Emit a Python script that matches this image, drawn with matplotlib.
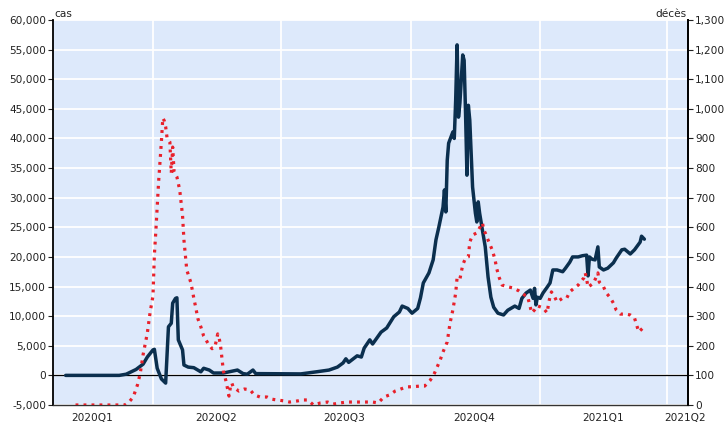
import matplotlib
matplotlib.use('Agg')
import matplotlib.pyplot as plt
import matplotlib.dates as mdates
import matplotlib.ticker as mticker
import pandas as pd

# nouveaux cas (axe gauche)
cas_dates = ['2020-01-30', '2020-03-08', '2020-03-13', '2020-03-20', '2020-03-25', '2020-03-28',
             '2020-04-01', '2020-04-02', '2020-04-04', '2020-04-07', '2020-04-10', '2020-04-12',
             '2020-04-14', '2020-04-15', '2020-04-17', '2020-04-18', '2020-04-19', '2020-04-22',
             '2020-04-23', '2020-04-26', '2020-04-30', '2020-05-05', '2020-05-07', '2020-05-11',
             '2020-05-14', '2020-05-21', '2020-05-31', '2020-06-04', '2020-06-07', '2020-06-11',
             '2020-06-13', '2020-07-15', '2020-07-26', '2020-08-04', '2020-08-10', '2020-08-14',
             '2020-08-16', '2020-08-18', '2020-08-24', '2020-08-27', '2020-08-29', '2020-09-02',
             '2020-09-04', '2020-09-10', '2020-09-14', '2020-09-19', '2020-09-23', '2020-09-25',
             '2020-09-29', '2020-10-02', '2020-10-06', '2020-10-08', '2020-10-10', '2020-10-14',
             '2020-10-17', '2020-10-19', '2020-10-21', '2020-10-24', '2020-10-25', '2020-10-26',
             '2020-10-27', '2020-10-28', '2020-10-31', '2020-11-01', '2020-11-02', '2020-11-03',
             '2020-11-04', '2020-11-05', '2020-11-07', '2020-11-08', '2020-11-09', '2020-11-10',
             '2020-11-11', '2020-11-12', '2020-11-14', '2020-11-16', '2020-11-17', '2020-11-18',
             '2020-11-19', '2020-11-21', '2020-11-23', '2020-11-25', '2020-11-27', '2020-11-29',
             '2020-12-02', '2020-12-06', '2020-12-09', '2020-12-14', '2020-12-17', '2020-12-19',
             '2020-12-22', '2020-12-25', '2020-12-27', '2020-12-28', '2020-12-29', '2020-12-30',
             '2021-01-01', '2021-01-03', '2021-01-06', '2021-01-08', '2021-01-10', '2021-01-13',
             '2021-01-17', '2021-01-19', '2021-01-22', '2021-01-24', '2021-01-28', '2021-01-31',
             '2021-02-03', '2021-02-04', '2021-02-05', '2021-02-07', '2021-02-09', '2021-02-11',
             '2021-02-12', '2021-02-15', '2021-02-18', '2021-02-22', '2021-02-24', '2021-02-28',
             '2021-03-02', '2021-03-06', '2021-03-09', '2021-03-13', '2021-03-14', '2021-03-16']
cas_vals = [0, 0, 200, 1000, 1900, 3100,
            4300, 4400, 1200, -600, -1300, 8200,
            8800, 12200, 13000, 13100, 6000, 4300,
            1750, 1400, 1300, 600, 1200, 900,
            400, 400, 900, 300, 200, 900,
            300, 250, 600, 900, 1400, 2100,
            2800, 2200, 3300, 3100, 4600, 6000,
            5300, 7300, 8000, 9900, 10700, 11700,
            11300, 10500, 11300, 13100, 15600, 17300,
            19500, 22900, 25000, 28400, 31300, 27600,
            36300, 39200, 41100, 40000, 46500, 55800,
            43600, 46000, 54100, 53200, 44300, 33800,
            45600, 43100, 31800, 27400, 25900, 29300,
            27400, 24500, 21700, 16600, 13200, 11500,
            10500, 10200, 11000, 11700, 11300, 13000,
            13900, 14400, 13000, 14700, 11900, 13200,
            13000, 13900, 14900, 15600, 17800, 17800,
            17500, 18100, 19100, 20000, 20000, 20200,
            20300, 16800, 20000, 19600, 19500, 21700,
            18300, 17800, 18100, 19000, 19800, 21200,
            21300, 20500, 21200, 22500, 23500, 23000]

# décès (axe droit)
deces_dates = ['2020-02-06', '2020-03-08', '2020-03-12', '2020-03-15', '2020-03-18', '2020-03-21',
               '2020-03-23', '2020-03-25', '2020-03-28', '2020-03-30', '2020-04-01', '2020-04-02',
               '2020-04-03', '2020-04-04', '2020-04-05', '2020-04-06', '2020-04-07', '2020-04-08',
               '2020-04-09', '2020-04-10', '2020-04-11', '2020-04-13', '2020-04-14', '2020-04-15',
               '2020-04-16', '2020-04-18', '2020-04-20', '2020-04-22', '2020-04-23', '2020-04-24',
               '2020-04-25', '2020-04-28', '2020-04-30', '2020-05-01', '2020-05-03', '2020-05-05',
               '2020-05-07', '2020-05-10', '2020-05-13', '2020-05-15', '2020-05-17', '2020-05-18',
               '2020-05-19', '2020-05-20', '2020-05-21', '2020-05-23', '2020-05-25', '2020-05-26',
               '2020-05-27', '2020-05-28', '2020-06-01', '2020-06-05', '2020-06-09', '2020-06-12',
               '2020-06-16', '2020-06-21', '2020-06-24', '2020-06-28', '2020-07-03', '2020-07-07',
               '2020-07-13', '2020-07-16', '2020-07-20', '2020-07-24', '2020-07-29', '2020-08-03',
               '2020-08-07', '2020-08-12', '2020-08-17', '2020-08-26', '2020-09-04', '2020-09-08',
               '2020-09-12', '2020-09-16', '2020-09-20', '2020-09-24', '2020-09-28', '2020-10-03',
               '2020-10-08', '2020-10-11', '2020-10-15', '2020-10-18', '2020-10-22', '2020-10-24',
               '2020-10-27', '2020-10-29', '2020-10-31', '2020-11-02', '2020-11-03', '2020-11-05',
               '2020-11-07', '2020-11-09', '2020-11-11', '2020-11-12', '2020-11-14', '2020-11-17',
               '2020-11-19', '2020-11-21', '2020-11-22', '2020-11-23', '2020-11-25', '2020-11-28',
               '2020-11-30', '2020-12-01', '2020-12-03', '2020-12-05', '2020-12-09', '2020-12-13',
               '2020-12-17', '2020-12-21', '2020-12-23', '2020-12-25', '2020-12-26', '2020-12-28',
               '2020-12-30', '2021-01-03', '2021-01-06', '2021-01-07', '2021-01-08', '2021-01-09',
               '2021-01-11', '2021-01-13', '2021-01-17', '2021-01-20', '2021-01-22', '2021-01-26',
               '2021-01-28', '2021-02-01', '2021-02-02', '2021-02-03', '2021-02-04', '2021-02-08',
               '2021-02-11', '2021-02-12', '2021-02-15', '2021-02-17', '2021-02-20', '2021-02-22',
               '2021-02-24', '2021-02-27', '2021-03-03', '2021-03-06', '2021-03-09', '2021-03-11',
               '2021-03-12', '2021-03-15']
deces_vals = [0, 0, 0, 10, 27, 68,
              108, 170, 243, 314, 368, 507,
              584, 669, 753, 820, 890, 969,
              960, 940, 902, 888, 783, 871,
              787, 770, 726, 640, 557, 507,
              456, 412, 361, 338, 290, 264,
              233, 209, 190, 196, 240, 226,
              200, 159, 115, 78, 30, 60,
              74, 61, 47, 54, 51, 34,
              27, 27, 20, 17, 14, 10,
              14, 17, 17, 0, 7, 10,
              3, 7, 10, 10, 10, 7,
              27, 34, 47, 54, 61, 62,
              64, 64, 84, 108, 152, 179,
              213, 277, 321, 378, 430, 425,
              473, 496, 500, 550, 574, 581,
              598, 615, 590, 581, 557, 523,
              490, 463, 429, 405, 399, 395,
              385, 371, 368, 331, 311, 321,
              335, 328, 311, 344, 365, 382,
              368, 348, 361, 362, 382, 398,
              405, 429, 446, 425, 398, 412,
              446, 415, 399, 378, 361, 344,
              321, 307, 307, 304, 294, 263,
              247, 260]

trimestres = ['2020Q1', '2020Q2', '2020Q3', '2020Q4', '2021Q1', '2021Q2']
pos_trimestres = ['2020-02-18', '2020-05-16', '2020-08-15', '2020-11-15', '2021-02-15', '2021-04-14']
debuts_trimestres = ['2020-04-01', '2020-07-01', '2020-10-01', '2021-01-01', '2021-04-01']

bleu = '#0b2f4e'
rouge = '#e8202a'
fond = '#dde9fb'

plt.rcParams['font.family'] = 'DejaVu Sans'
plt.rcParams['font.size'] = 7.6

fig = plt.figure(figsize=(7.25, 4.24), dpi=100)
ax = fig.add_axes([53 / 725, 1 - 405 / 424, 635 / 725, 385 / 424])
ax.set_facecolor(fond)

ax.plot(pd.to_datetime(cas_dates), cas_vals, color=bleu, lw=2.5, zorder=3,
        solid_joinstyle='round', solid_capstyle='round')
ax.axhline(0, color='black', lw=0.9, zorder=2)

ax.set_ylim(-5000, 60000)
ax.yaxis.set_major_locator(mticker.MultipleLocator(5000))
ax.yaxis.set_major_formatter(mticker.FuncFormatter(lambda v, p: f'{int(v):,}'))
ax.set_xlim(pd.Timestamp('2020-01-21'), pd.Timestamp('2021-04-16'))

ax.xaxis.set_major_locator(mticker.FixedLocator(mdates.date2num(pd.to_datetime(pos_trimestres))))
ax.xaxis.set_major_formatter(mticker.FixedFormatter(trimestres))
ax.xaxis.set_minor_locator(mticker.FixedLocator(mdates.date2num(pd.to_datetime(debuts_trimestres))))
ax.tick_params(axis='x', which='both', length=0, pad=5.5, labelsize=7.6, colors='#222222')
ax.tick_params(axis='y', length=3.5, width=0.8, pad=1.5, labelsize=7.6, colors='#222222')
ax.grid(axis='y', color='white', lw=1.3, zorder=1)
ax.grid(axis='x', which='minor', color='white', lw=1.3, zorder=1)
ax.grid(axis='x', which='major', visible=False)
ax.set_axisbelow(True)

ax.spines['top'].set_visible(False)
ax.spines['left'].set_linewidth(1.3)
ax.spines['right'].set_linewidth(1.3)
ax.spines['bottom'].set_linewidth(1.0)
ax.spines['bottom'].set_color('#333333')

ax2 = ax.twinx()
ax2.plot(pd.to_datetime(deces_dates), deces_vals, color=rouge, lw=2.3,
         linestyle=(0, (0.9, 1.6)), zorder=4)
ax2.set_ylim(0, 1300)
ax2.yaxis.set_major_locator(mticker.MultipleLocator(100))
ax2.yaxis.set_major_formatter(mticker.FuncFormatter(lambda v, p: f'{int(v):,}'))
ax2.tick_params(axis='y', length=3.5, width=0.8, pad=1.5, labelsize=7.6, colors='#222222')
ax2.spines['top'].set_visible(False)
ax2.spines['right'].set_linewidth(1.3)
ax2.spines['left'].set_visible(False)
ax2.spines['bottom'].set_visible(False)

fig.text(54 / 725, 1 - 17 / 424, 'cas', ha='left', va='baseline', fontsize=7.6, color='#222222')
fig.text(686 / 725, 1 - 17 / 424, 'décès', ha='right', va='baseline', fontsize=7.6, color='#222222')

fig.savefig('out.png', dpi=100)
